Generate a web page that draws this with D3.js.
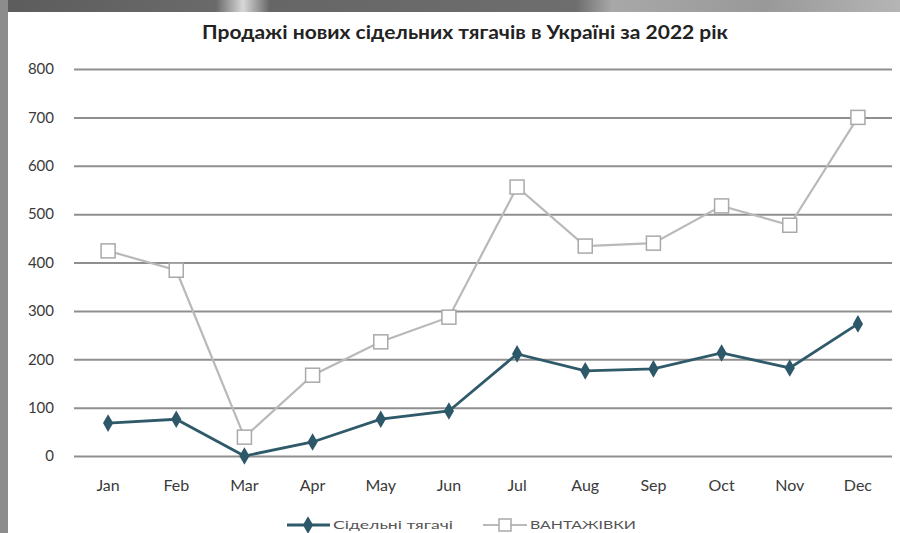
<!DOCTYPE html>
<html>
<head>
<meta charset="utf-8">
<script src="https://cdn.jsdelivr.net/npm/d3@7"></script>
<style>
  html, body { margin: 0; padding: 0; background: #fff; }
  svg { display: block; }
  text { font-family: Lato, "Liberation Sans", sans-serif; }
</style>
</head>
<body>
<svg id="chart" width="900" height="533"></svg>
<script>
// Monthly sales, 2022
const months = ["Jan", "Feb", "Mar", "Apr", "May", "Jun", "Jul", "Aug", "Sep", "Oct", "Nov", "Dec"];
const tractors = [68, 76, 0, 29, 76, 93, 211, 176, 180, 213, 182, 273];
const trucks = [424, 384, 39, 167, 236, 287, 556, 434, 440, 517, 477, 700];
const yTicks = [0, 100, 200, 300, 400, 500, 600, 700, 800];
const seriesNames = ["Сідельні тягачі", "ВАНТАЖІВКИ"];
const titleText = "Продажі нових сідельних тягачів в Україні за 2022 рік";

const svg = d3.select("#chart");

// window frame: grey strip on top and at the left edge
const defs = svg.append("defs");
const topGrad = defs.append("linearGradient").attr("id", "topGrad");
[["0%", "#5c5c5c"], ["24%", "#6a6a6a"], ["27%", "#d8d8d8"], ["30%", "#666"], ["64%", "#6e6e6e"], ["68%", "#a8a8a8"], ["85%", "#999"], ["100%", "#b5b5b5"]]
  .forEach(([o, c]) => topGrad.append("stop").attr("offset", o).attr("stop-color", c));
svg.append("rect").attr("x", 0).attr("y", 0).attr("width", 900).attr("height", 12).attr("fill", "url(#topGrad)");
svg.append("rect").attr("x", 0).attr("y", 0).attr("width", 8).attr("height", 533).attr("fill", "#8c8c8c");

const x = d3.scaleBand().domain(months).range([74, 892]).padding(0);
const y = d3.scaleLinear().domain([0, 800]).range([456, 69]);
const cx = d => x(d) + x.bandwidth() / 2;

// horizontal gridlines with value labels
const yAxis = svg.append("g")
  .attr("transform", "translate(74,0)")
  .call(d3.axisLeft(y).tickValues(yTicks).tickSize(-818).tickPadding(20).tickFormat(d3.format("d")));
yAxis.select(".domain").remove();
yAxis.selectAll(".tick line").attr("stroke", "#8f8f8f").attr("stroke-width", 2);
yAxis.selectAll(".tick text").attr("fill", "#3a3a3a").attr("font-size", 15);

// month labels
const xAxis = svg.append("g")
  .attr("transform", "translate(0,456)")
  .call(d3.axisBottom(x).tickSize(0).tickPadding(24));
xAxis.select(".domain").remove();
xAxis.selectAll(".tick text").attr("fill", "#3a3a3a").attr("font-size", 16);

// title
svg.append("text")
  .attr("x", 465).attr("y", 39)
  .attr("text-anchor", "middle")
  .attr("font-size", 18).attr("font-weight", "bold").attr("fill", "#222")
  .attr("textLength", 526).attr("lengthAdjust", "spacingAndGlyphs")
  .text(titleText);

const line = d3.line().x((d, i) => cx(months[i])).y(d => y(d));

// trucks: light grey line with hollow squares
svg.append("path").datum(trucks)
  .attr("d", line).attr("fill", "none")
  .attr("stroke", "#b9b9b9").attr("stroke-width", 2.2);
svg.selectAll(".sq").data(trucks).join("rect")
  .attr("class", "sq")
  .attr("x", (d, i) => cx(months[i]) - 7).attr("y", d => y(d) - 7)
  .attr("width", 14).attr("height", 14)
  .attr("fill", "#fff").attr("stroke", "#a9a9a9").attr("stroke-width", 1.5);

// tractors: dark teal line with diamonds
svg.append("path").datum(tractors)
  .attr("d", line).attr("fill", "none")
  .attr("stroke", "#2f5a6a").attr("stroke-width", 2.8);
const diamond = d3.symbol().type(d3.symbolDiamond).size(90);
svg.selectAll(".dm").data(tractors).join("path")
  .attr("class", "dm")
  .attr("d", diamond)
  .attr("transform", (d, i) => `translate(${cx(months[i])},${y(d)})`)
  .attr("fill", "#2c5869");

// legend
const lg = svg.append("g").attr("transform", "translate(0,525)");
lg.append("line").attr("x1", 287).attr("x2", 330).attr("y1", 0).attr("y2", 0)
  .attr("stroke", "#2f5a6a").attr("stroke-width", 2.8);
lg.append("path").attr("d", diamond).attr("transform", "translate(308,0)").attr("fill", "#2c5869");
lg.append("text").attr("x", 333).attr("y", 4).attr("font-size", 12).attr("fill", "#555")
  .attr("textLength", 120).attr("lengthAdjust", "spacingAndGlyphs").text(seriesNames[0]);
lg.append("line").attr("x1", 483).attr("x2", 527).attr("y1", 0).attr("y2", 0)
  .attr("stroke", "#b9b9b9").attr("stroke-width", 2.2);
lg.append("rect").attr("x", 499).attr("y", -6).attr("width", 12).attr("height", 12)
  .attr("fill", "#fff").attr("stroke", "#a9a9a9").attr("stroke-width", 1.5);
lg.append("text").attr("x", 530).attr("y", 4).attr("font-size", 12).attr("fill", "#555")
  .attr("textLength", 106).attr("lengthAdjust", "spacingAndGlyphs").text(seriesNames[1]);
</script>
</body>
</html>
